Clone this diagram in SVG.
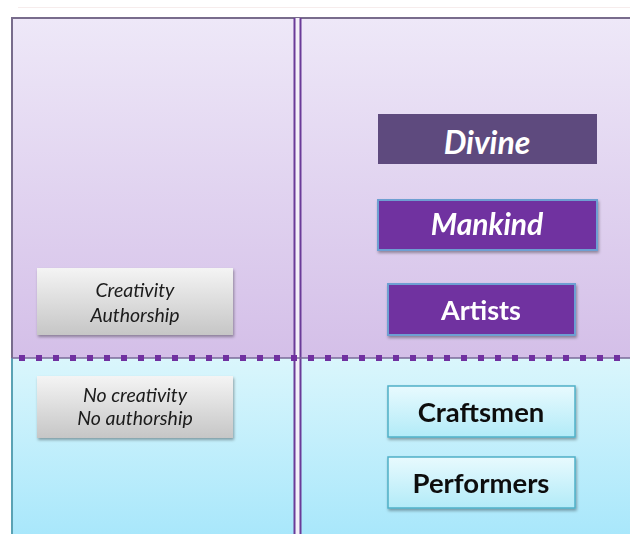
<svg xmlns="http://www.w3.org/2000/svg" width="630" height="534" viewBox="0 0 630 534">
<defs>
<linearGradient id="gTop" x1="0" y1="0" x2="0" y2="1"><stop offset="0" stop-color="#eee8f8"/><stop offset="1" stop-color="#d4bfe8"/></linearGradient>
<linearGradient id="gBot" x1="0" y1="0" x2="0" y2="1"><stop offset="0" stop-color="#daf6fc"/><stop offset="1" stop-color="#a5e6fb"/></linearGradient>
<linearGradient id="gGray" x1="0" y1="0" x2="0" y2="1"><stop offset="0" stop-color="#f4f4f4"/><stop offset="1" stop-color="#c6c6c6"/></linearGradient>
<linearGradient id="gCyan" x1="0" y1="0" x2="0" y2="1"><stop offset="0" stop-color="#e8fafe"/><stop offset="1" stop-color="#b2ebf8"/></linearGradient>
<filter id="sh" x="-10%" y="-10%" width="120%" height="130%"><feDropShadow dx="1" dy="2" stdDeviation="1.5" flood-color="#000" flood-opacity="0.35"/></filter>
<style>
.lbl{font-family:Lato,"Open Sans","Liberation Sans",sans-serif;text-anchor:middle}
.it{font-style:italic;font-size:19.5px;fill:#1a1a1a}
.wb{font-weight:bold;fill:#ffffff;font-size:27px}
.bb{font-weight:bold;fill:#111111;font-size:27.5px}
.purple{fill:#7030a0;stroke:#6e9fd2;stroke-width:2}
.cyan{fill:url(#gCyan);stroke:#4fb0c8;stroke-width:1.5}
.gray{fill:url(#gGray)}
</style>
</defs>
<rect width="630" height="534" fill="#ffffff"/>
<line x1="18" y1="7.5" x2="630" y2="7.5" stroke="#f6ecec" stroke-width="1"/>
<rect x="12" y="18" width="630" height="340" fill="url(#gTop)"/>
<rect x="12" y="358" width="630" height="190" fill="url(#gBot)"/>
<line x1="12" y1="18" x2="630" y2="18" stroke="#786c8c" stroke-width="2"/>
<line x1="12" y1="17" x2="12" y2="358" stroke="#786c8c" stroke-width="2"/>
<line x1="12" y1="358" x2="12" y2="534" stroke="#5aa2b4" stroke-width="2"/>
<rect x="295" y="18" width="5" height="516" fill="#f3eef8"/>
<line x1="294.5" y1="18" x2="294.5" y2="534" stroke="#6a3b98" stroke-width="2"/>
<line x1="300.5" y1="18" x2="300.5" y2="534" stroke="#6a3b98" stroke-width="2"/>
<g id="divider">
<line x1="12" y1="358" x2="630" y2="358" stroke="#7a6a9a" stroke-width="1.5"/>
<line x1="19" y1="358" x2="630" y2="358" stroke="#7030a0" stroke-width="6" stroke-dasharray="6 11"/>
</g>
<g id="creativity" filter="url(#sh)">
<rect x="37" y="268" width="196" height="67" class="gray"/>
<text class="lbl it" x="135" y="297">Creativity</text>
<text class="lbl it" x="135" y="322">Authorship</text>
</g>
<g id="nocreativity" filter="url(#sh)">
<rect x="37" y="376" width="196" height="62" class="gray"/>
<text class="lbl it" x="135" y="402">No creativity</text>
<text class="lbl it" x="135" y="425">No authorship</text>
</g>
<g id="divine">
<rect x="378" y="114" width="219" height="50" fill="#5e4a7e"/>
<text class="lbl wb" x="487" y="154" style="font-style:italic;font-size:32px">Divine</text>
</g>
<g id="mankind" filter="url(#sh)">
<rect x="378" y="200" width="219" height="50" class="purple"/>
<text class="lbl wb" x="487" y="235" style="font-style:italic;font-size:30px">Mankind</text>
</g>
<g id="artists" filter="url(#sh)">
<rect x="388" y="284" width="187" height="51" class="purple"/>
<text class="lbl wb" x="481" y="320">Artists</text>
</g>
<g id="craftsmen" filter="url(#sh)">
<rect x="388" y="386" width="187" height="51" class="cyan"/>
<text class="lbl bb" x="481" y="422">Craftsmen</text>
</g>
<g id="performers" filter="url(#sh)">
<rect x="388" y="457" width="187" height="51" class="cyan"/>
<text class="lbl bb" x="481" y="493">Performers</text>
</g>
<g id="connectors"></g>
</svg>
